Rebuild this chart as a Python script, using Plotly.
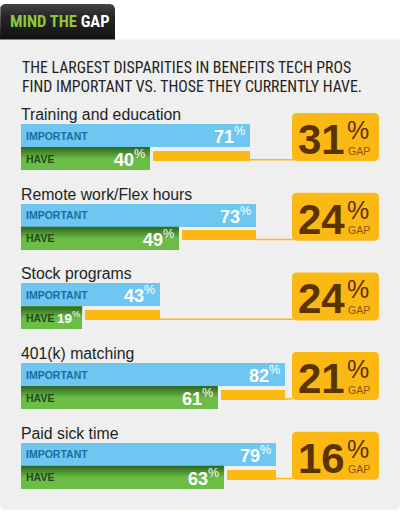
import math
import plotly.graph_objects as go

# ---------------- data ----------------
header_green = "MIND THE"
header_white = "GAP"
title_lines = ["THE LARGEST DISPARITIES IN BENEFITS TECH PROS",
               "FIND IMPORTANT VS. THOSE THEY CURRENTLY HAVE."]
categories = ["Training and education", "Remote work/Flex hours", "Stock programs",
              "401(k) matching", "Paid sick time"]
important = [71, 73, 43, 82, 79]
have = [40, 49, 19, 61, 63]
gap = [31, 24, 24, 21, 16]
series_labels = ["IMPORTANT", "HAVE"]
gap_word = "GAP"

# ---------------- layout helpers ----------------
W, H = 405, 512
X0 = 21.0        # pixel of 0 %
S = 3.225        # pixels per percent
TOP0 = 124.0
STEP = 79.7
BH = 23.0


def xd(px):
    return (px - X0) / S


def rrect(x0, y0, x1, y1, r, tl=True, tr=True, br=True, bl=True):
    p = []
    p.append(f"M{xd(x0 + (r if tl else 0))},{y0}")
    p.append(f"L{xd(x1 - (r if tr else 0))},{y0}")
    if tr:
        p.append(f"Q{xd(x1)},{y0} {xd(x1)},{y0 + r}")
    p.append(f"L{xd(x1)},{y1 - (r if br else 0)}")
    if br:
        p.append(f"Q{xd(x1)},{y1} {xd(x1 - r)},{y1}")
    p.append(f"L{xd(x0 + (r if bl else 0))},{y1}")
    if bl:
        p.append(f"Q{xd(x0)},{y1} {xd(x0)},{y1 - r}")
    p.append(f"L{xd(x0)},{y0 + (r if tl else 0)}")
    if tl:
        p.append(f"Q{xd(x0)},{y0} {xd(x0 + r)},{y0}")
    p.append("Z")
    return " ".join(p)


FONT = "Liberation Sans, Arial, Helvetica, sans-serif"
COND = "Roboto Condensed, Liberation Sans, sans-serif"
BLUE = "#6dc7f0"
GREEN = "#6cbd45"
ORANGE = "#fdb913"
BROWN = "#5a3300"

tops = [TOP0 + STEP * i for i in range(len(categories))]

fig = go.Figure()

# header tab with vertical gradient (rounded top corners)
tx0, ty0, tx1, ty1, tr_ = 0.0, 4.0, 115.0, 39.5, 5.0
tab_x, tab_y = [xd(tx0)], [ty1]
for k in range(9):
    a = math.pi - k * (math.pi / 2) / 8
    tab_x.append(xd(tx0 + tr_ + tr_ * math.cos(a)))
    tab_y.append(ty0 + tr_ - tr_ * math.sin(a))
for k in range(9):
    a = math.pi / 2 - k * (math.pi / 2) / 8
    tab_x.append(xd(tx1 - tr_ + tr_ * math.cos(a)))
    tab_y.append(ty0 + tr_ - tr_ * math.sin(a))
tab_x += [xd(tx1), xd(tx0)]
tab_y += [ty1, ty1]
fig.add_trace(go.Scatter(
    x=tab_x, y=tab_y, mode="lines", line=dict(width=0), fill="toself",
    fillgradient=dict(type="vertical", start=ty0, stop=ty1,
                      colorscale=[[0, "#444444"], [0.35, "#262626"], [1, "#121212"]]),
    hoverinfo="skip", showlegend=False))

# important bars
fig.add_trace(go.Bar(
    x=important, y=[t + BH / 2 for t in tops], base=0, width=BH,
    orientation="h", marker=dict(color=BLUE, line=dict(width=0)),
    hoverinfo="skip", showlegend=False))
# have bars
fig.add_trace(go.Bar(
    x=have, y=[t + BH * 1.5 for t in tops], base=0, width=BH,
    orientation="h", marker=dict(color=GREEN, line=dict(width=0)),
    hoverinfo="skip", showlegend=False))
# gap bars
gstart = [h + 2.8 / S for h in have]
fig.add_trace(go.Bar(
    x=[i - g for i, g in zip(important, gstart)], base=gstart,
    y=[t + BH + 8.7 for t in tops], width=10,
    orientation="h", marker=dict(color=ORANGE, line=dict(width=0)),
    hoverinfo="skip", showlegend=False))

# shading on the top of the green bars
for t, h in zip(tops, have):
    y0 = t + BH
    y1 = t + BH + 12
    fig.add_trace(go.Scatter(
        x=[0, h, h, 0, 0], y=[y0, y0, y1, y1, y0], mode="lines",
        line=dict(width=0), fill="toself",
        fillgradient=dict(type="vertical", start=y0, stop=y1,
                          colorscale=[[0, "rgba(35,85,25,0.85)"],
                                      [1, "rgba(35,85,25,0)"]]),
        hoverinfo="skip", showlegend=False))

shapes = []
# panel
shapes.append(dict(type="path", path=rrect(0, 39.5, 400, 510, 6, tl=False, tr=False),
                   xref="x", yref="y", fillcolor="#efefef", line=dict(width=0),
                   layer="below"))

annotations = []
annotations.append(dict(
    x=xd(8), y=21.3, xref="x", yref="y", xanchor="left", yanchor="middle",
    text=f"<b><span style='color:#8dc63f'>{header_green}</span> {header_white}</b>",
    showarrow=False, font=dict(family=COND, size=16.5, color="white")))
for k, line in enumerate(title_lines):
    annotations.append(dict(
        x=xd(20), y=67.6 + 18.4 * k, xref="x", yref="y", xanchor="left", yanchor="middle",
        text=line, showarrow=False,
        font=dict(family=COND, size=15.8, color="#231f20")))


def value_label(v, yc):
    end_px = X0 + v * S
    if end_px - 5 - 57 >= 18 * 1.74:
        size, shift = 18, -3
    else:
        size, shift = round((end_px - 2 - 57) / 1.74, 1), 0
    return dict(x=v, y=yc, xref="x", yref="y", xanchor="right", yanchor="middle",
                xshift=shift, text=f"<b>{v}</b><sup>%</sup>", showarrow=False,
                font=dict(family=FONT, size=size, color="white"))


for t, cat, imp, hv, g in zip(tops, categories, important, have, gap):
    # connector line
    shapes.append(dict(type="line", x0=imp - 0.3, x1=xd(293), y0=t + 35.8, y1=t + 35.8,
                       xref="x", yref="y", line=dict(color=ORANGE, width=1.5),
                       layer="below"))
    # gap box
    shapes.append(dict(type="path", path=rrect(292, t - 11, 379, t + 37, 5),
                       xref="x", yref="y", fillcolor=ORANGE, line=dict(width=0),
                       layer="above"))
    annotations += [
        dict(x=xd(19), y=t - 9.7, xref="x", yref="y", xanchor="left", yanchor="middle",
             text=cat, showarrow=False, font=dict(family=FONT, size=15.8, color="#231f20")),
        dict(x=xd(24), y=t + BH / 2, xref="x", yref="y", xanchor="left", yanchor="middle",
             text=f"<b>{series_labels[0]}</b>", showarrow=False,
             font=dict(family=FONT, size=10.5, color="#1a6d9e")),
        dict(x=xd(24), y=t + BH * 1.5, xref="x", yref="y", xanchor="left", yanchor="middle",
             text=f"<b>{series_labels[1]}</b>", showarrow=False,
             font=dict(family=FONT, size=10.5, color="#1f4a1b")),
        value_label(imp, t + BH / 2),
        value_label(hv, t + BH * 1.5),
        dict(x=xd(296), y=t + 15.5, xref="x", yref="y", xanchor="left", yanchor="middle",
             text=f"<b>{g}</b>", showarrow=False,
             font=dict(family=FONT, size=42, color=BROWN)),
        dict(x=xd(345), y=t + 6.0, xref="x", yref="y", xanchor="left", yanchor="middle",
             text="%", showarrow=False,
             font=dict(family=FONT, size=25, color=BROWN)),
        dict(x=xd(346), y=t + 26.5, xref="x", yref="y", xanchor="left", yanchor="middle",
             text=gap_word, showarrow=False,
             font=dict(family=FONT, size=10.5, color="#8a5410")),
    ]

fig.update_layout(
    width=W, height=H, margin=dict(l=0, r=0, t=0, b=0),
    paper_bgcolor="white", plot_bgcolor="white",
    barmode="overlay", bargap=0,
    xaxis=dict(range=[xd(0), xd(W)], visible=False, fixedrange=True),
    yaxis=dict(range=[H, 0], visible=False, fixedrange=True),
    shapes=shapes, annotations=annotations, showlegend=False,
)

fig.write_html("out.html", config={"displayModeBar": False},
               post_script="document.body.style.margin='0';")
